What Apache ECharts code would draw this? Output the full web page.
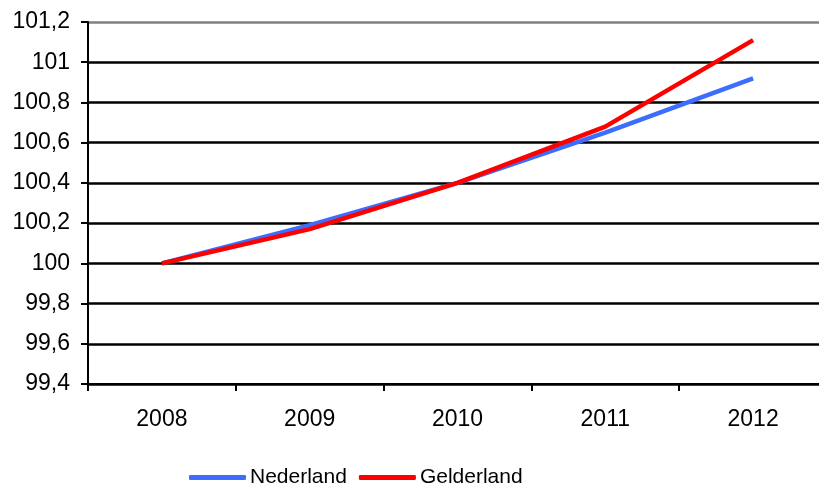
<!DOCTYPE html>
<html>
<head>
<meta charset="utf-8">
<script src="https://cdn.jsdelivr.net/npm/echarts@6/dist/echarts.min.js"></script>
<style>html,body{margin:0;padding:0;background:#fff}#c{width:819px;height:485px}</style>
</head>
<body>
<div id="c"></div>
<script>
const categories = ['2008', '2009', '2010', '2011', '2012'];
const nederland = [100, 100.19, 100.4, 100.65, 100.92];
const gelderland = [100, 100.17, 100.4, 100.68, 101.11];
const yMin = 99.4, yMax = 101.2, yStep = 0.2;

const font = 'Liberation Sans, Arial, sans-serif';
const gridColors = ['#000','#000','#000','#000','#000','#000','#000','#000','#000','#808080'];
const chart = echarts.init(document.getElementById('c'), null, {renderer: 'canvas'});
chart.setOption({
  animation: false,
  textStyle: {fontFamily: font},
  grid: {left: 88, width: 739, top: 22, height: 362, containLabel: false, outerBoundsMode: 'none'},
  legend: {
    data: ['Nederland', 'Gelderland'],
    left: 189, top: 467, padding: 0,
    icon: 'roundRect', itemWidth: 57, itemHeight: 5, itemGap: 12,
    textStyle: {fontFamily: font, fontSize: 21, color: '#000', padding: [0,0,0,-1]}
  },
  xAxis: {
    type: 'category', data: categories, boundaryGap: true,
    axisLine: {show: true, lineStyle: {color: '#000', width: 2}},
    axisTick: {show: true, length: 7, lineStyle: {color: '#000', width: 2}},
    axisLabel: {fontFamily: font, fontSize: 23, color: '#000', margin: 24}
  },
  yAxis: {
    type: 'value', min: yMin, max: yMax, interval: yStep,
    axisLine: {show: true, lineStyle: {color: '#000', width: 2}},
    axisTick: {show: true, length: 7, lineStyle: {color: '#000', width: 2}},
    splitLine: {show: true, lineStyle: {color: gridColors, width: 2.5}},
    axisLabel: {fontFamily: font, fontSize: 23, color: '#000', margin: 18,
      formatter: v => String(Math.round(v * 10) / 10).replace('.', ',')}
  },
  series: [
    {name: 'Nederland', type: 'line', data: nederland, symbol: 'none',
     lineStyle: {color: '#3d6dff', width: 4.5}, itemStyle: {color: '#3d6dff'}},
    {name: 'Gelderland', type: 'line', data: gelderland, symbol: 'none',
     lineStyle: {color: '#ff0000', width: 4.5}, itemStyle: {color: '#ff0000'}}
  ]
});
</script>
</body>
</html>
